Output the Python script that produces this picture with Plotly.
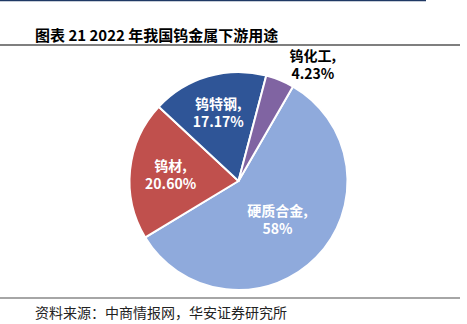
import plotly.graph_objects as go

labels = ["硬质合金", "钨材", "钨特钢", "钨化工"]
values = [58, 20.60, 17.17, 4.23]
value_text = ["58%", "20.60%", "17.17%", "4.23%"]
colors = ["#8FAADC", "#C0504D", "#2F5597", "#8064A2"]

W, H = 467, 324
cx, cy, r = 238.5, 181, 109

texts = [f"{l},<br>{v}" for l, v in zip(labels, value_text)]

fig = go.Figure(go.Pie(
    labels=labels, values=values, text=texts, textinfo="text",
    sort=False, direction="clockwise", rotation=30,
    marker=dict(colors=colors, line=dict(color="white", width=2)),
    textposition=["inside", "inside", "inside", "outside"],
    insidetextorientation="horizontal",
    textfont=dict(family="Noto Sans CJK SC", size=14, weight="bold",
                  color=["white", "white", "white", "black"]),
    hoverinfo="skip",
    domain=dict(x=[(cx - r) / W, (cx + r) / W], y=[1 - (cy + r) / H, 1 - (cy - r) / H]),
    showlegend=False,
))

def hline(y, x0, x1, color, width):
    return dict(type="line", xref="paper", yref="paper", x0=x0 / W, x1=x1 / W,
                y0=1 - y / H, y1=1 - y / H, line=dict(color=color, width=width))

fig.update_layout(
    width=W, height=H, margin=dict(l=0, r=0, t=0, b=0),
    paper_bgcolor="white", plot_bgcolor="white",
    shapes=[hline(0.5, 0, 426, "#1F3864", 1.5), hline(45, 0, 460, "#555555", 1.5),
            hline(298, 0, 460, "#888888", 1.5)],
    annotations=[
        dict(text="<b>图表 21 2022 年我国钨金属下游用途</b>", xref="paper", yref="paper",
             x=33 / W, y=1 - 34 / H, xanchor="left", yanchor="middle", showarrow=False,
             font=dict(family="Noto Sans CJK SC", size=15, color="black")),
        dict(text="资料来源：中商情报网，华安证券研究所", xref="paper", yref="paper",
             x=33 / W, y=1 - 312 / H, xanchor="left", yanchor="middle", showarrow=False,
             font=dict(family="Noto Sans CJK SC", size=14, color="#222222")),
    ],
)

fig.write_html("out.html")
